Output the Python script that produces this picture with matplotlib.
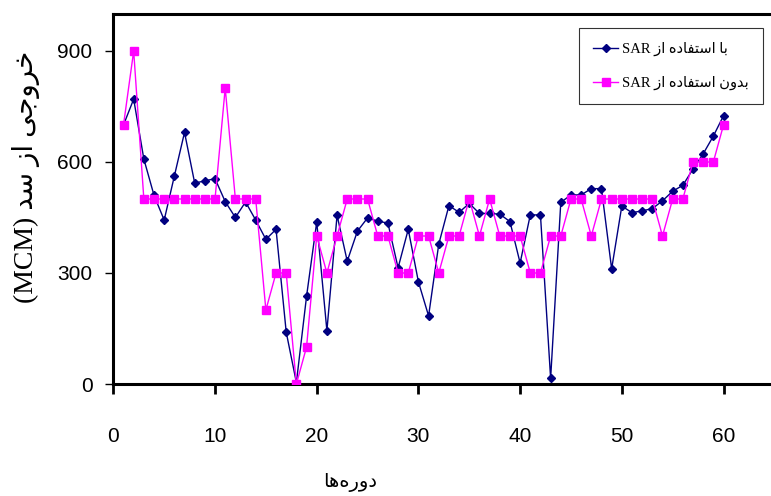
import matplotlib
matplotlib.use('Agg')
import matplotlib.pyplot as plt
from matplotlib import font_manager

# outflow per period (MCM)
periods = list(range(1, 61))
with_sar = [700, 770, 608, 510, 443, 562, 680, 543, 549, 555,
            493, 450, 492, 443, 391, 418, 140, 4, 237, 438,
            144, 456, 332, 413, 449, 440, 435, 314, 418, 276,
            184, 378, 482, 464, 488, 461, 461, 459, 439, 327,
            457, 457, 15, 491, 511, 511, 528, 528, 311, 481,
            463, 468, 474, 495, 521, 537, 581, 622, 670, 725]
without_sar = [700, 900, 500, 500, 500, 500, 500, 500, 500, 500,
               800, 500, 500, 500, 200, 300, 300, 0, 100, 400,
               300, 400, 500, 500, 500, 400, 400, 300, 300, 400,
               400, 300, 400, 400, 500, 400, 500, 400, 400, 400,
               300, 300, 400, 400, 500, 500, 400, 500, 500, 500,
               500, 500, 500, 400, 500, 500, 600, 600, 600, 700]
xticks = [0, 10, 20, 30, 40, 50, 60]
yticks = [0, 300, 600, 900]

label_with = 'با استفاده از SAR'
label_without = 'بدون استفاده از SAR'
ylabel = 'خروجی از سد (MCM)'
xlabel = 'دوره\u200cها'

# matplotlib has no arabic shaping -> do it by hand with presentation forms
FORMS = {
    'ا': (0xFE8D, 0xFE8E, None, None),
    'ب': (0xFE8F, 0xFE90, 0xFE91, 0xFE92),
    'ت': (0xFE95, 0xFE96, 0xFE97, 0xFE98),
    'ج': (0xFE9D, 0xFE9E, 0xFE9F, 0xFEA0),
    'خ': (0xFEA5, 0xFEA6, 0xFEA7, 0xFEA8),
    'د': (0xFEA9, 0xFEAA, None, None),
    'ر': (0xFEAD, 0xFEAE, None, None),
    'ز': (0xFEAF, 0xFEB0, None, None),
    'س': (0xFEB1, 0xFEB2, 0xFEB3, 0xFEB4),
    'ف': (0xFED1, 0xFED2, 0xFED3, 0xFED4),
    'ن': (0xFEE5, 0xFEE6, 0xFEE7, 0xFEE8),
    'ه': (0xFEE9, 0xFEEA, 0xFEEB, 0xFEEC),
    'و': (0xFEED, 0xFEEE, None, None),
    'ی': (0xFEEF, 0xFEF0, 0xFEF3, 0xFEF4),
}


def shape_word(w):
    out = []
    for i, c in enumerate(w):
        if c not in FORMS:
            out.append(c)
            continue
        iso, fin, ini, med = FORMS[c]
        prev = w[i - 1] if i > 0 else ''
        nxt = w[i + 1] if i + 1 < len(w) else ''
        pj = prev in FORMS and FORMS[prev][2] is not None
        nj = nxt in FORMS and ini is not None
        if pj and nj:
            g = med
        elif pj:
            g = fin
        elif nj:
            g = ini
        else:
            g = iso
        out.append(chr(g))
    s = ''.join(out).replace('\u200c', '')
    return s[::-1]


def rtl(text):
    toks = text.split(' ')
    vis = []
    for t in reversed(toks):
        if any(ch in FORMS for ch in t):
            vis.append(shape_word(t))
        else:
            vis.append(t)
    return ' '.join(vis)


names = {f.name for f in font_manager.fontManager.ttflist}
tick_font = 'Liberation Sans Narrow' if 'Liberation Sans Narrow' in names else 'Liberation Sans'
fa_font = ['Liberation Serif', 'DejaVu Sans']

fig = plt.figure(figsize=(7.71, 4.96), dpi=100)
ax = fig.add_axes([0.147, 0.2258, 0.853, 0.746])

ax.plot(periods, with_sar, color='#000080', lw=1, marker='D', ms=4.5,
        label=rtl(label_with), zorder=3)
ax.plot(periods, without_sar, color='#FF00FF', lw=1, marker='s', ms=5.5,
        label=rtl(label_without), zorder=4)

ax.set_xlim(0, 64.67)
ax.set_ylim(0, 1000)
ax.set_xticks(xticks)
ax.set_yticks(yticks)
ax.spines['right'].set_visible(False)
for s in ('left', 'bottom', 'top'):
    ax.spines[s].set_linewidth(2.2)
ax.tick_params(axis='x', direction='out', length=7, width=2, pad=24)
ax.tick_params(axis='y', direction='out', length=6, width=1, pad=9)
for lab in ax.get_xticklabels() + ax.get_yticklabels():
    lab.set_fontfamily(tick_font)
    lab.set_fontsize(15)

fig.text(350 / 771, 1 - 482 / 496, rtl(xlabel), family=fa_font, fontsize=14,
         ha='center', va='center')
fig.text(26 / 771, 1 - 177 / 496, rtl(ylabel), family=fa_font, fontsize=20,
         rotation=90, ha='center', va='center')

leg = ax.legend(loc='upper right', bbox_to_anchor=(763 / 771, 1 - 28 / 496),
                bbox_transform=fig.transFigure, frameon=True, fancybox=False,
                edgecolor='black', prop={'family': fa_font, 'size': 10.5},
                handlelength=1.7, labelspacing=1.35, borderpad=0.95,
                borderaxespad=0, handletextpad=0.3)
leg.get_frame().set_linewidth(0.8)

fig.savefig('out.png', dpi=100)
